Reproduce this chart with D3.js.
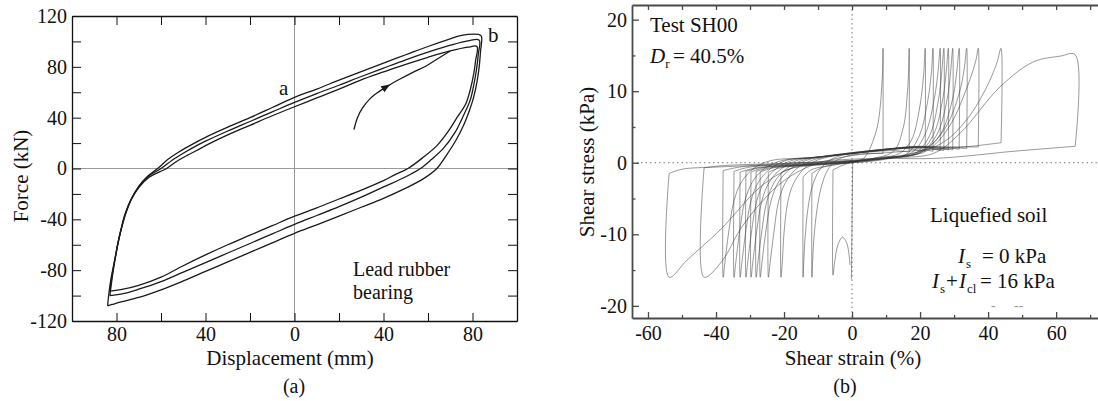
<!DOCTYPE html>
<html>
<head>
<meta charset="utf-8">
<script src="https://cdn.jsdelivr.net/npm/d3@7"></script>
<style>
  body { margin: 0; background: #fff; }
  svg { display: block; }
</style>
</head>
<body>
<div id="chart"></div>
<script>
// ---- panel (a): lead rubber bearing, [displacement (mm), force (kN)] ----
const outerLoop = [
  [-84, -108], [-83.4, -98], [-82.6, -88], [-81.5, -78], [-80.3, -68], [-79.2, -58],
  [-77.6, -46], [-75.8, -35], [-73.3, -24], [-70, -14], [-66, -6], [-61.5, 0],
  [-57, 7], [-52, 13], [-46, 19], [-40, 24.5], [-30, 32.5], [-20, 40], [-10, 48],
  [0, 56], [10, 62.5], [20, 69.5], [30, 76.3], [40, 83], [50, 89.5], [60, 96],
  [70, 102], [74.6, 104.5], [78, 105.5], [82.7, 105.5], [84, 104],
  [83.6, 92], [83, 80], [82, 68], [80.5, 56], [78.5, 45], [76, 34], [72.5, 22],
  [68.5, 11], [64, 0], [58, -8], [50, -15.5], [40, -23.5], [30, -30.5], [20, -37.5],
  [10, -44.3], [0, -51], [-10, -58.5], [-20, -66], [-30, -73.5], [-40, -81],
  [-50, -88.5], [-60, -95.5], [-70, -101.5], [-78, -105], [-82, -107], [-84, -108]
];
const middleLoop = [
  [-83, -100], [-82.4, -92], [-81.6, -82], [-80.5, -70], [-79.5, -60], [-78, -48],
  [-76.2, -36], [-73.7, -25], [-70.3, -15], [-66, -6.5], [-60, 0], [-55, 6.5],
  [-50, 12], [-44, 18], [-40, 21.5], [-30, 29.5], [-20, 37], [-10, 44.5], [0, 52],
  [10, 59], [20, 65.5], [30, 72.4], [40, 79], [50, 85.5], [60, 91.5], [70, 97],
  [78, 100.5], [83, 101],
  [82.6, 90], [81.8, 78], [80.6, 66], [79, 54], [75.5, 40], [72, 28], [67, 16],
  [61.5, 7], [56.6, 0], [50, -6.5], [40, -14.5], [30, -22.5], [20, -30], [10, -37],
  [0, -44], [-10, -51.5], [-20, -59], [-30, -66.5], [-40, -74], [-50, -81.5],
  [-60, -89], [-70, -95], [-77, -98.5], [-83, -100]
];
const innerLoop = [
  [-83, -96.5], [-82.5, -90], [-81.6, -80], [-80.5, -69], [-79.4, -59], [-77.8, -47],
  [-76, -36], [-73.5, -25], [-70, -15], [-65.5, -7], [-57.5, 0], [-53, 5.5],
  [-48, 10.5], [-42, 16], [-40, 18], [-30, 26.5], [-20, 34], [-10, 41.5], [0, 48.6],
  [10, 55.5], [20, 62.5], [30, 69.8], [40, 76], [50, 82], [60, 87.5], [70, 92.5],
  [78, 95.5], [82, 96],
  [81.4, 85], [80.5, 74], [79, 62], [77, 51], [73, 40], [69, 29], [64, 18], [58, 9],
  [51, 0], [45, -5], [40, -9.5], [30, -17], [20, -24], [10, -31], [0, -37.5],
  [-10, -45], [-20, -52.5], [-30, -60], [-40, -68], [-50, -76.5], [-60, -85.5],
  [-70, -92], [-77, -95], [-83, -96.5]
];
// first loading branch, arrow drawn at index 5
const firstLoading = [
  [26.7, 30.6], [28.3, 40], [30.5, 47.5], [34, 55], [38, 60.5], [41.6, 64.6],
  [47, 70], [53, 75.5], [59, 80.5], [64, 86], [70, 92.5]
];
const forceTicks = [-120, -80, -40, 0, 40, 80, 120];
const dispTicks = [-80, -40, 0, 40, 80];

// ---- panel (b): liquefied soil, [shear strain (%), shear stress (kPa)] ----
// rightward branches, ending at a positive peak and its drop
const loadPaths = [
  [[-5.6, -1.0], [-3, -0.4], [0, 0.1], [3, 0.5], [4.4, 1.2], [7.4, 5], [8.9, 12], [9.1, 16], [9.1, 1.3]],
  [[-11.8, -1.5], [-9, -0.7], [-5, -0.3], [0, 0.1], [6, 0.6], [12.2, 1.6], [15.1, 5], [16.3, 10], [16.6, 12.5], [16.8, 16], [16.8, 1.5]],
  [[-14.4, -2], [-12, -1.0], [-7, -0.4], [0, 0.1], [8, 0.7], [14, 1.3], [17.5, 3.2], [19.8, 7.5], [21, 12], [21.5, 16], [21.5, 1.6]],
  [[-20.9, -1.4], [-18, -0.8], [-10, -0.3], [0, 0.0], [10, 0.6], [16, 1.2], [19.8, 3.8], [22.2, 8.5], [23.3, 12.5], [23.8, 16], [23.8, 1.6]],
  [[-24.6, -1.3], [-21, -0.7], [-10, -0.2], [0, 0.2], [10, 0.7], [17.5, 1.4], [21.5, 4], [24.2, 9], [25.3, 12.8], [25.9, 16], [25.9, 1.7]],
  [[-27, -1.3], [-23, -0.7], [-10, -0.3], [0, 0.1], [10, 0.6], [18.5, 1.3], [22.8, 3.8], [25.4, 8.8], [26.4, 12.8], [27, 16], [27, 1.7]],
  [[-28.2, -1.2], [-24, -0.7], [-12, -0.3], [0, 0.2], [10, 0.7], [19.5, 1.4], [24, 4], [26.7, 9], [27.7, 12.8], [28.3, 16], [28.3, 1.8]],
  [[-29.7, -1.3], [-25, -0.6], [-12, -0.2], [0, 0.3], [10, 0.8], [20, 1.4], [25, 4], [28, 9], [29, 12.8], [29.6, 16], [29.6, 1.8]],
  [[-31.2, -1.2], [-27, -0.7], [-14, -0.3], [0, 0.1], [10, 0.6], [20.5, 1.5], [26, 4], [29.6, 9], [30.8, 12.8], [31.5, 16], [31.5, 1.9]],
  [[-32.9, -1.3], [-28, -0.7], [-15, -0.3], [0, 0.0], [10, 0.5], [21.7, 2.0], [27.6, 5], [31.5, 9.7], [33, 13.2], [33.7, 16], [33.7, 2.0]],
  [[-34.7, -1.2], [-30, -0.6], [-15, -0.2], [0, 0.2], [10, 0.7], [21.7, 1.6], [28.5, 5], [34.4, 11.3], [36.4, 14.3], [37.1, 16], [37.1, 2.2]],
  [[-37.9, -1.1], [-33, -0.6], [-18, -0.2], [0, 0.2], [12, 0.8], [25.9, 2.6], [33.7, 6], [39.6, 10.6], [42.6, 14], [43.8, 16], [43.8, 2.8]],
  [[-43.5, -0.7], [-38, -0.4], [-20, -0.1], [0, 0.3], [12, 0.7], [23.9, 1.3], [31.7, 4.1], [43.5, 10.6], [53.3, 14.1], [61.2, 14.9], [65.6, 15.1], [65.6, 2.3]],
  [[-53.8, -1.5], [-50, -0.9], [-40, -0.6], [-30, -0.4], [-20, -0.1], [-10, 0.1], [0, 0.3]]
];
// leftward branches, ending at a negative peak and its recovery
const unloadPaths = [
  [[0.2, 0.3], [-0.2, -16.3]],
  [[-0.6, -14.3], [-1.5, -11.3], [-2.8, -10.4], [-4.1, -11.4], [-5.1, -13.8], [-5.6, -15.7], [-5.6, -1.0]],
  [[9.1, 1.3], [5, 1.3], [0, 1.1], [-3, 0.7], [-5.5, 0], [-7.5, -1.3], [-9.1, -3.5], [-10.3, -6.5], [-11.2, -10.5], [-11.6, -13.8], [-11.8, -16], [-11.8, -1.5]],
  [[16.8, 1.5], [12, 1.7], [5, 1.5], [0, 1.3], [-4, 0.9], [-7, 0.2], [-9.8, -1.2], [-11.8, -3.5], [-13, -6.5], [-13.8, -10.5], [-14.2, -13.8], [-14.4, -16], [-14.4, -2]],
  [[21.5, 1.6], [15, 2.0], [8, 1.7], [0, 1.3], [-7, 0.8], [-11, 0.2], [-14.5, -1.0], [-17.3, -3], [-18.9, -5.5], [-20, -9.8], [-20.5, -13.8], [-20.9, -16], [-20.9, -1.4]],
  [[23.8, 1.6], [18, 2.1], [10, 1.9], [0, 1.4], [-8, 0.8], [-12, 0.3], [-16.5, -0.9], [-19.6, -2.8], [-21.6, -5.4], [-23, -9.8], [-24.1, -14], [-24.6, -16], [-24.6, -1.3]],
  [[25.9, 1.7], [20, 2.2], [10, 1.9], [0, 1.4], [-7, 1.0], [-13, 0.4], [-18, -0.8], [-21.5, -2.6], [-23.8, -5.3], [-25.4, -9.8], [-26.5, -14], [-27, -16], [-27, -1.3]],
  [[27, 1.7], [20, 2.2], [10, 1.8], [0, 1.3], [-8, 0.9], [-14.2, 0.4], [-19.2, -0.8], [-22.7, -2.6], [-25, -5.3], [-26.6, -9.8], [-27.7, -14], [-28.2, -16], [-28.2, -1.2]],
  [[28.3, 1.8], [20, 2.3], [10, 1.9], [0, 1.3], [-8, 0.9], [-15.7, 0.4], [-20.7, -0.8], [-24.2, -2.6], [-26.5, -5.3], [-28.1, -9.8], [-29.2, -14], [-29.7, -16], [-29.7, -1.3]],
  [[29.6, 1.8], [20, 2.2], [10, 1.9], [0, 1.4], [-10, 0.8], [-17.2, 0.4], [-22.2, -0.8], [-25.7, -2.6], [-28, -5.3], [-29.6, -9.8], [-30.7, -14], [-31.2, -16], [-31.2, -1.2]],
  [[31.5, 1.9], [22, 2.3], [10, 1.9], [0, 1.3], [-10, 0.8], [-18.9, 0.4], [-23.9, -0.8], [-27.4, -2.6], [-29.7, -5.3], [-31.3, -9.8], [-32.4, -14], [-32.9, -16], [-32.9, -1.3]],
  [[33.7, 2.0], [22, 2.2], [10, 1.8], [0, 1.3], [-10, 0.7], [-20.7, 0.3], [-25.7, -0.8], [-29.2, -2.6], [-31.5, -5.3], [-33.1, -9.8], [-34.2, -14], [-34.7, -16], [-34.7, -1.2]],
  [[37.1, 2.2], [25, 2.2], [12, 1.9], [0, 1.3], [-12, 0.7], [-23.9, 0.3], [-28.9, -0.8], [-32.4, -2.6], [-34.7, -5.3], [-36.3, -9.8], [-37.4, -14], [-37.9, -16], [-37.9, -1.1]],
  [[43.8, 2.8], [35, 2.3], [22, 1.8], [10, 1.4], [0, 1.0], [-12, -0.4], [-20, -2.5], [-27, -5.7], [-33, -9.4], [-38, -13.6], [-43.5, -16], [-43.5, -0.7]],
  [[65.6, 2.3], [55, 1.9], [45, 1.5], [35, 1.0], [24, 0.6], [10, 0.6], [0, 0.5], [-10, 0.1], [-19, -1.0], [-27, -3.4], [-38.8, -9.4], [-48.5, -13.6], [-53.8, -16], [-53.8, -1.5]]
];
const stressTicks = [-20, -10, 0, 10, 20];
const strainTicks = [-60, -40, -20, 0, 20, 40, 60];

const serif = '"Liberation Serif", "Times New Roman", serif';
const width = 1098;
const height = 401;

const svg = d3.select('#chart').append('svg')
    .attr('width', width)
    .attr('height', height)
    .attr('font-family', serif);

svg.append('defs').append('marker')
    .attr('id', 'arrowA')
    .attr('viewBox', '0 0 10 10')
    .attr('refX', 6)
    .attr('refY', 5)
    .attr('markerWidth', 9)
    .attr('markerHeight', 9)
    .attr('markerUnits', 'userSpaceOnUse')
    .attr('orient', 'auto')
    .append('path')
    .attr('d', 'M0,1L10,5L0,9z')
    .attr('fill', '#1a1a1a');

// ================= panel (a) =================
const xa = d3.scaleLinear().domain([-100, 100]).range([72, 517]);
const ya = d3.scaleLinear().domain([-120, 120]).range([321, 16]);

const gA = svg.append('g');

// zero lines
gA.append('line')
    .attr('x1', xa(-100)).attr('x2', xa(100))
    .attr('y1', ya(0)).attr('y2', ya(0))
    .attr('stroke', '#999').attr('stroke-width', 1);
gA.append('line')
    .attr('x1', xa(0)).attr('x2', xa(0))
    .attr('y1', ya(120)).attr('y2', ya(-120))
    .attr('stroke', '#999').attr('stroke-width', 1);

const styleAxis = (g, color, size) => g
    .attr('font-family', serif)
    .attr('font-size', size)
    .attr('color', color)
    .call(g => g.selectAll('text').attr('fill', '#111'));

gA.append('g')
    .attr('transform', `translate(${xa(-100)},0)`)
    .call(d3.axisLeft(ya).tickValues(d3.range(-120, 121, 20)).tickSizeInner(-9).tickSizeOuter(0).tickPadding(5)
        .tickFormat(d => forceTicks.includes(d) ? String(d) : ''))
    .call(g => styleAxis(g, '#111', 20));
gA.append('g')
    .attr('transform', `translate(${xa(100)},0)`)
    .call(d3.axisRight(ya).tickValues(d3.range(-100, 101, 20)).tickSizeInner(-9).tickSizeOuter(0).tickFormat(''))
    .call(g => styleAxis(g, '#111', 20));
gA.append('g')
    .attr('transform', `translate(0,${ya(120)})`)
    .call(d3.axisTop(xa).tickValues(d3.range(-80, 81, 20)).tickSizeInner(-9).tickSizeOuter(0).tickFormat(''))
    .call(g => styleAxis(g, '#111', 20));
gA.append('g')
    .attr('transform', `translate(0,${ya(-120)})`)
    .call(d3.axisBottom(xa).tickValues(d3.range(-80, 81, 20)).tickSizeInner(-8).tickSizeOuter(0).tickPadding(6)
        .tickFormat(d => dispTicks.includes(d) ? String(Math.abs(d)) : ''))
    .call(g => styleAxis(g, '#111', 20));
gA.selectAll('.domain').attr('stroke-width', 1.3);

const lineA = d3.line()
    .x(d => xa(d[0]))
    .y(d => ya(d[1]))
    .curve(d3.curveCatmullRom.alpha(0.5));

gA.append('g')
    .attr('fill', 'none')
    .attr('stroke', '#1a1a1a')
    .attr('stroke-width', 1.3)
    .selectAll('path')
    .data([outerLoop, middleLoop, innerLoop])
    .join('path')
    .attr('d', lineA);

gA.append('path')
    .attr('d', lineA(firstLoading.slice(0, 6)))
    .attr('fill', 'none').attr('stroke', '#1a1a1a').attr('stroke-width', 1.3)
    .attr('marker-end', 'url(#arrowA)');
gA.append('path')
    .attr('d', lineA(firstLoading.slice(5)))
    .attr('fill', 'none').attr('stroke', '#1a1a1a').attr('stroke-width', 1.3);

gA.append('text').attr('x', 279).attr('y', 95).attr('font-size', 21).attr('fill', '#111').text('a');
gA.append('text').attr('x', 488).attr('y', 42).attr('font-size', 21).attr('fill', '#111').text('b');
gA.append('text').attr('x', 353).attr('y', 276).attr('font-size', 20).attr('fill', '#111').text('Lead rubber');
gA.append('text').attr('x', 353).attr('y', 299).attr('font-size', 20).attr('fill', '#111').text('bearing');

gA.append('text')
    .attr('transform', 'translate(28,176) rotate(-90)')
    .attr('text-anchor', 'middle')
    .attr('font-size', 21).attr('fill', '#111')
    .text('Force (kN)');
gA.append('text')
    .attr('x', 290).attr('y', 365)
    .attr('text-anchor', 'middle')
    .attr('font-size', 21).attr('fill', '#111')
    .text('Displacement (mm)');
gA.append('text')
    .attr('x', 294).attr('y', 393)
    .attr('text-anchor', 'middle')
    .attr('font-size', 20).attr('fill', '#111')
    .text('(a)');

// ================= panel (b) =================
const xb = d3.scaleLinear().domain([-64.7, 72.9]).range([632, 1100]);
const yb = d3.scaleLinear().domain([-21.7, 22.05]).range([318, 5]);

const gB = svg.append('g');

gB.append('line')
    .attr('x1', xb(-64.7)).attr('x2', width)
    .attr('y1', yb(0)).attr('y2', yb(0))
    .attr('stroke', '#777').attr('stroke-width', 1).attr('stroke-dasharray', '1.5,3');
gB.append('line')
    .attr('x1', xb(0)).attr('x2', xb(0))
    .attr('y1', yb(22.05)).attr('y2', yb(-21.7))
    .attr('stroke', '#777').attr('stroke-width', 1).attr('stroke-dasharray', '1.5,3');

const lineB = d3.line()
    .x(d => xb(d[0]))
    .y(d => yb(d[1]))
    .curve(d3.curveCatmullRom.alpha(0.5));

gB.append('g')
    .attr('fill', 'none')
    .attr('stroke', '#333')
    .attr('stroke-opacity', 0.5)
    .attr('stroke-width', 1)
    .selectAll('path')
    .data(loadPaths.concat(unloadPaths))
    .join('path')
    .attr('d', lineB);

// axes
gB.append('g')
    .attr('transform', `translate(${xb(-64.7)},0)`)
    .call(d3.axisLeft(yb).tickValues(stressTicks).tickSizeInner(-7).tickSizeOuter(0).tickPadding(5)
        .tickFormat(d => String(d)))
    .call(g => styleAxis(g, '#4a4a4a', 20));
gB.append('g')
    .attr('transform', `translate(${xb(-64.7)},0)`)
    .call(d3.axisLeft(yb).tickValues([-15, -5, 5, 15]).tickSizeInner(-3.5).tickSizeOuter(0).tickFormat(''))
    .call(g => g.select('.domain').remove())
    .call(g => styleAxis(g, '#4a4a4a', 20));
gB.append('g')
    .attr('transform', `translate(0,${yb(-21.7)})`)
    .call(d3.axisBottom(xb).tickValues(strainTicks).tickSizeInner(-6).tickSizeOuter(0).tickPadding(8)
        .tickFormat(d => String(d)))
    .call(g => styleAxis(g, '#4a4a4a', 20));
gB.append('g')
    .attr('transform', `translate(0,${yb(-21.7)})`)
    .call(d3.axisBottom(xb).tickValues([-50, -30, -10, 10, 30, 50, 70]).tickSizeInner(-3).tickSizeOuter(0).tickFormat(''))
    .call(g => g.select('.domain').remove())
    .call(g => styleAxis(g, '#4a4a4a', 20));
gB.append('g')
    .attr('transform', `translate(0,${yb(22.05)})`)
    .call(d3.axisTop(xb).tickValues(d3.range(-60, 71, 10)).tickSizeInner(-5).tickSizeOuter(0).tickFormat(''))
    .call(g => styleAxis(g, '#4a4a4a', 20));
gB.selectAll('.domain').attr('stroke-width', 1.8);
gB.selectAll('.tick line').attr('stroke-width', 1.3);

// annotations
gB.append('text').attr('x', 650).attr('y', 32).attr('font-size', 21).attr('fill', '#111').text('Test SH00');
const dr = gB.append('text').attr('x', 650).attr('y', 63).attr('font-size', 21).attr('fill', '#111');
dr.append('tspan').attr('font-style', 'italic').text('D');
dr.append('tspan').attr('font-size', 13).attr('dy', 5).text('r');
dr.append('tspan').attr('x', 673).attr('dy', -5).text('= 40.5%');

gB.append('text').attr('x', 930).attr('y', 222).attr('font-size', 21).attr('fill', '#111').text('Liquefied soil');

const is1 = gB.append('text').attr('x', 958).attr('y', 263).attr('font-size', 21).attr('fill', '#111');
is1.append('tspan').attr('font-style', 'italic').text('I');
is1.append('tspan').attr('x', 966).attr('dy', 5).attr('font-size', 13).text('s');
is1.append('tspan').attr('x', 982).attr('dy', -5).text('= 0 kPa');

const is2 = gB.append('text').attr('x', 932).attr('y', 288).attr('font-size', 21).attr('fill', '#111');
is2.append('tspan').attr('font-style', 'italic').text('I');
is2.append('tspan').attr('x', 940).attr('dy', 5).attr('font-size', 13).text('s');
is2.append('tspan').attr('x', 946).attr('dy', -5).text('+');
is2.append('tspan').attr('x', 959).attr('font-style', 'italic').text('I');
is2.append('tspan').attr('x', 967).attr('dy', 5).attr('font-size', 13).text('cl');
is2.append('tspan').attr('x', 980).attr('dy', -5).text('= 16 kPa');

gB.append('text').attr('x', 991).attr('y', 310).attr('font-size', 14).attr('fill', '#999').text('-');
gB.append('text').attr('x', 1014).attr('y', 310).attr('font-size', 14).attr('fill', '#999').text('--');

gB.append('text')
    .attr('transform', 'translate(594,162) rotate(-90)')
    .attr('text-anchor', 'middle')
    .attr('font-size', 21).attr('fill', '#111')
    .text('Shear stress (kPa)');
gB.append('text')
    .attr('x', 853).attr('y', 365)
    .attr('text-anchor', 'middle')
    .attr('font-size', 21).attr('fill', '#111')
    .text('Shear strain (%)');
gB.append('text')
    .attr('x', 845).attr('y', 393)
    .attr('text-anchor', 'middle')
    .attr('font-size', 20).attr('fill', '#111')
    .text('(b)');
</script>
</body>
</html>
